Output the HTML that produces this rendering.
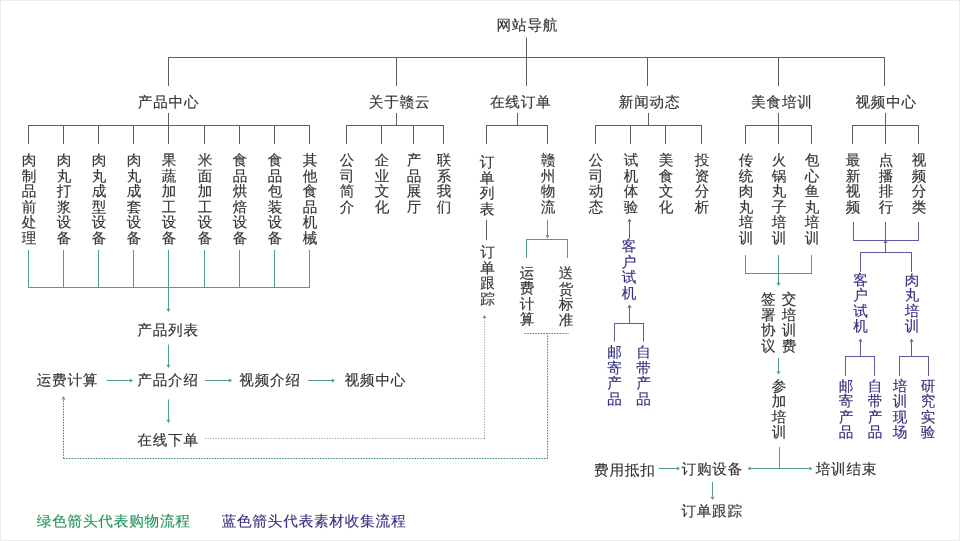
<!DOCTYPE html>
<html><head><meta charset="utf-8"><style>
html,body{margin:0;padding:0;background:#fff;}
#c{position:relative;filter:blur(0.35px);width:960px;height:541px;overflow:hidden;background:#fff;font-family:"Liberation Sans",sans-serif;text-rendering:geometricPrecision;}
#c:after{content:"";position:absolute;left:0;top:0;right:0;bottom:0;border:1px solid #ececec;pointer-events:none;}
.h{position:absolute;-webkit-text-stroke:0.15px currentColor;white-space:nowrap;font-size:14.6px;line-height:14.6px;letter-spacing:0.8px;}
.v{position:absolute;-webkit-text-stroke:0.15px currentColor;width:15.4px;font-size:14.6px;line-height:15.5px;word-break:break-all;text-align:center;}
svg{position:absolute;left:0;top:0;}
</style></head><body><div id="c">
<svg width="960" height="541" viewBox="0 0 960 541">
<line x1="526.5" y1="38" x2="526.5" y2="57.5" stroke="#5e5e5e" stroke-width="1" stroke-linecap="square"/>
<line x1="168.5" y1="57.5" x2="884.5" y2="57.5" stroke="#5e5e5e" stroke-width="1" stroke-linecap="square"/>
<line x1="168.5" y1="57.5" x2="168.5" y2="85.5" stroke="#5e5e5e" stroke-width="1" stroke-linecap="square"/>
<line x1="168.5" y1="113.5" x2="168.5" y2="125.5" stroke="#5e5e5e" stroke-width="1" stroke-linecap="square"/>
<line x1="396.5" y1="57.5" x2="396.5" y2="85.5" stroke="#5e5e5e" stroke-width="1" stroke-linecap="square"/>
<line x1="396.5" y1="113.5" x2="396.5" y2="125.5" stroke="#5e5e5e" stroke-width="1" stroke-linecap="square"/>
<line x1="526.5" y1="57.5" x2="526.5" y2="85.5" stroke="#5e5e5e" stroke-width="1" stroke-linecap="square"/>
<line x1="517.5" y1="113.5" x2="517.5" y2="125.5" stroke="#5e5e5e" stroke-width="1" stroke-linecap="square"/>
<line x1="647.5" y1="57.5" x2="647.5" y2="85.5" stroke="#5e5e5e" stroke-width="1" stroke-linecap="square"/>
<line x1="648.5" y1="113.5" x2="648.5" y2="125.5" stroke="#5e5e5e" stroke-width="1" stroke-linecap="square"/>
<line x1="778.5" y1="57.5" x2="778.5" y2="85.5" stroke="#5e5e5e" stroke-width="1" stroke-linecap="square"/>
<line x1="778.5" y1="113.5" x2="778.5" y2="125.5" stroke="#5e5e5e" stroke-width="1" stroke-linecap="square"/>
<line x1="884.5" y1="57.5" x2="884.5" y2="85.5" stroke="#5e5e5e" stroke-width="1" stroke-linecap="square"/>
<line x1="885.5" y1="113.5" x2="885.5" y2="125.5" stroke="#5e5e5e" stroke-width="1" stroke-linecap="square"/>
<line x1="28.5" y1="125.5" x2="309.5" y2="125.5" stroke="#5e5e5e" stroke-width="1" stroke-linecap="square"/>
<line x1="28.5" y1="125.5" x2="28.5" y2="143.5" stroke="#5e5e5e" stroke-width="1" stroke-linecap="square"/>
<line x1="63.5" y1="125.5" x2="63.5" y2="143.5" stroke="#5e5e5e" stroke-width="1" stroke-linecap="square"/>
<line x1="98.5" y1="125.5" x2="98.5" y2="143.5" stroke="#5e5e5e" stroke-width="1" stroke-linecap="square"/>
<line x1="133.5" y1="125.5" x2="133.5" y2="143.5" stroke="#5e5e5e" stroke-width="1" stroke-linecap="square"/>
<line x1="168.5" y1="125.5" x2="168.5" y2="143.5" stroke="#5e5e5e" stroke-width="1" stroke-linecap="square"/>
<line x1="204.5" y1="125.5" x2="204.5" y2="143.5" stroke="#5e5e5e" stroke-width="1" stroke-linecap="square"/>
<line x1="239.5" y1="125.5" x2="239.5" y2="143.5" stroke="#5e5e5e" stroke-width="1" stroke-linecap="square"/>
<line x1="274.5" y1="125.5" x2="274.5" y2="143.5" stroke="#5e5e5e" stroke-width="1" stroke-linecap="square"/>
<line x1="309.5" y1="125.5" x2="309.5" y2="143.5" stroke="#5e5e5e" stroke-width="1" stroke-linecap="square"/>
<line x1="346.5" y1="125.5" x2="443.5" y2="125.5" stroke="#5e5e5e" stroke-width="1" stroke-linecap="square"/>
<line x1="346.5" y1="125.5" x2="346.5" y2="143.5" stroke="#5e5e5e" stroke-width="1" stroke-linecap="square"/>
<line x1="381.5" y1="125.5" x2="381.5" y2="143.5" stroke="#5e5e5e" stroke-width="1" stroke-linecap="square"/>
<line x1="413.5" y1="125.5" x2="413.5" y2="143.5" stroke="#5e5e5e" stroke-width="1" stroke-linecap="square"/>
<line x1="443.5" y1="125.5" x2="443.5" y2="143.5" stroke="#5e5e5e" stroke-width="1" stroke-linecap="square"/>
<line x1="486.5" y1="125.5" x2="547.5" y2="125.5" stroke="#5e5e5e" stroke-width="1" stroke-linecap="square"/>
<line x1="486.5" y1="125.5" x2="486.5" y2="143.5" stroke="#5e5e5e" stroke-width="1" stroke-linecap="square"/>
<line x1="547.5" y1="125.5" x2="547.5" y2="143.5" stroke="#5e5e5e" stroke-width="1" stroke-linecap="square"/>
<line x1="595.5" y1="125.5" x2="701.5" y2="125.5" stroke="#5e5e5e" stroke-width="1" stroke-linecap="square"/>
<line x1="595.5" y1="125.5" x2="595.5" y2="143.5" stroke="#5e5e5e" stroke-width="1" stroke-linecap="square"/>
<line x1="630.5" y1="125.5" x2="630.5" y2="143.5" stroke="#5e5e5e" stroke-width="1" stroke-linecap="square"/>
<line x1="665.5" y1="125.5" x2="665.5" y2="143.5" stroke="#5e5e5e" stroke-width="1" stroke-linecap="square"/>
<line x1="701.5" y1="125.5" x2="701.5" y2="143.5" stroke="#5e5e5e" stroke-width="1" stroke-linecap="square"/>
<line x1="745.5" y1="125.5" x2="811.5" y2="125.5" stroke="#5e5e5e" stroke-width="1" stroke-linecap="square"/>
<line x1="745.5" y1="125.5" x2="745.5" y2="143.5" stroke="#5e5e5e" stroke-width="1" stroke-linecap="square"/>
<line x1="778.5" y1="125.5" x2="778.5" y2="143.5" stroke="#5e5e5e" stroke-width="1" stroke-linecap="square"/>
<line x1="811.5" y1="125.5" x2="811.5" y2="143.5" stroke="#5e5e5e" stroke-width="1" stroke-linecap="square"/>
<line x1="852.5" y1="125.5" x2="918.5" y2="125.5" stroke="#5e5e5e" stroke-width="1" stroke-linecap="square"/>
<line x1="852.5" y1="125.5" x2="852.5" y2="143.5" stroke="#5e5e5e" stroke-width="1" stroke-linecap="square"/>
<line x1="885.5" y1="125.5" x2="885.5" y2="143.5" stroke="#5e5e5e" stroke-width="1" stroke-linecap="square"/>
<line x1="918.5" y1="125.5" x2="918.5" y2="143.5" stroke="#5e5e5e" stroke-width="1" stroke-linecap="square"/>
<line x1="28.5" y1="250.5" x2="28.5" y2="287.5" stroke="#50a07a" stroke-width="1" stroke-linecap="square"/>
<line x1="63.5" y1="250.5" x2="63.5" y2="287.5" stroke="#50a07a" stroke-width="1" stroke-linecap="square"/>
<line x1="98.5" y1="250.5" x2="98.5" y2="287.5" stroke="#50a07a" stroke-width="1" stroke-linecap="square"/>
<line x1="133.5" y1="250.5" x2="133.5" y2="287.5" stroke="#50a07a" stroke-width="1" stroke-linecap="square"/>
<line x1="168.5" y1="250.5" x2="168.5" y2="287.5" stroke="#50a07a" stroke-width="1" stroke-linecap="square"/>
<line x1="204.5" y1="250.5" x2="204.5" y2="287.5" stroke="#50a07a" stroke-width="1" stroke-linecap="square"/>
<line x1="239.5" y1="250.5" x2="239.5" y2="287.5" stroke="#50a07a" stroke-width="1" stroke-linecap="square"/>
<line x1="274.5" y1="250.5" x2="274.5" y2="287.5" stroke="#50a07a" stroke-width="1" stroke-linecap="square"/>
<line x1="309.5" y1="250.5" x2="309.5" y2="287.5" stroke="#50a07a" stroke-width="1" stroke-linecap="square"/>
<line x1="28.5" y1="287.5" x2="309.5" y2="287.5" stroke="#50a07a" stroke-width="1" stroke-linecap="square"/>
<line x1="168.5" y1="287.5" x2="168.5" y2="311" stroke="#50a07a" stroke-width="1" stroke-linecap="square"/>
<polygon points="168.5,312 166.5,308.8 170.5,308.8" fill="#50a07a"/>
<line x1="168.5" y1="345" x2="168.5" y2="367" stroke="#50a07a" stroke-width="1" stroke-linecap="square"/>
<polygon points="168.5,368 166.5,364.8 170.5,364.8" fill="#50a07a"/>
<line x1="107" y1="380.5" x2="132" y2="380.5" stroke="#50a07a" stroke-width="1" stroke-linecap="square"/>
<polygon points="133,380.5 129.8,378.5 129.8,382.5" fill="#50a07a"/>
<line x1="205.5" y1="380.5" x2="231" y2="380.5" stroke="#50a07a" stroke-width="1" stroke-linecap="square"/>
<polygon points="232,380.5 228.8,378.5 228.8,382.5" fill="#50a07a"/>
<line x1="308.5" y1="380.5" x2="334" y2="380.5" stroke="#50a07a" stroke-width="1" stroke-linecap="square"/>
<polygon points="335,380.5 331.8,378.5 331.8,382.5" fill="#50a07a"/>
<line x1="168.5" y1="400" x2="168.5" y2="422" stroke="#50a07a" stroke-width="1" stroke-linecap="square"/>
<polygon points="168.5,423 166.5,419.8 170.5,419.8" fill="#50a07a"/>
<line x1="205" y1="438.5" x2="484.5" y2="438.5" stroke="#8a9a90" stroke-width="1" stroke-dasharray="1 1.65"/>
<line x1="484.5" y1="438.5" x2="484.5" y2="318" stroke="#8a9a90" stroke-width="1" stroke-dasharray="1 1.65"/>
<polygon points="484.5,315 482.5,318 486.5,318" fill="#6f9a82"/>
<line x1="63.5" y1="458.5" x2="547.5" y2="458.5" stroke="#3f8e66" stroke-width="1" stroke-dasharray="1.5 1.2"/>
<line x1="63.5" y1="458.5" x2="63.5" y2="400" stroke="#3f8e66" stroke-width="1" stroke-dasharray="1.5 1.2"/>
<polygon points="63.5,396 61.5,399.5 65.5,399.5" fill="#50a07a"/>
<line x1="547.5" y1="458.5" x2="547.5" y2="333.5" stroke="#3f8e66" stroke-width="1" stroke-dasharray="1.5 1.2"/>
<line x1="524.5" y1="333.5" x2="568.5" y2="333.5" stroke="#3f8e66" stroke-width="1" stroke-dasharray="1.5 1.2"/>
<line x1="486.5" y1="220.5" x2="486.5" y2="239.5" stroke="#5e5e5e" stroke-width="1" stroke-linecap="square"/>
<line x1="547.5" y1="220.5" x2="547.5" y2="237" stroke="#50a07a" stroke-width="1" stroke-linecap="square"/>
<polygon points="547.5,238.5 545.5,235.3 549.5,235.3" fill="#50a07a"/>
<line x1="526.5" y1="239.5" x2="567.5" y2="239.5" stroke="#50a07a" stroke-width="1" stroke-linecap="square"/>
<line x1="526.5" y1="239.5" x2="526.5" y2="257.5" stroke="#50a07a" stroke-width="1" stroke-linecap="square"/>
<line x1="567.5" y1="239.5" x2="567.5" y2="257.5" stroke="#50a07a" stroke-width="1" stroke-linecap="square"/>
<line x1="629.5" y1="238.5" x2="629.5" y2="222" stroke="#5f5c9a" stroke-width="1" stroke-linecap="square"/>
<polygon points="629.5,218.5 627.5,221.7 631.5,221.7" fill="#5f5c9a"/>
<line x1="629.5" y1="323.5" x2="629.5" y2="308" stroke="#5f5c9a" stroke-width="1" stroke-linecap="square"/>
<polygon points="629.5,304.5 627.5,307.7 631.5,307.7" fill="#5f5c9a"/>
<line x1="614.5" y1="323.5" x2="643.5" y2="323.5" stroke="#5f5c9a" stroke-width="1" stroke-linecap="square"/>
<line x1="614.5" y1="323.5" x2="614.5" y2="341" stroke="#5f5c9a" stroke-width="1" stroke-linecap="square"/>
<line x1="643.5" y1="323.5" x2="643.5" y2="341" stroke="#5f5c9a" stroke-width="1" stroke-linecap="square"/>
<line x1="745.5" y1="255.5" x2="745.5" y2="273.5" stroke="#50a07a" stroke-width="1" stroke-linecap="square"/>
<line x1="778.5" y1="255.5" x2="778.5" y2="273.5" stroke="#50a07a" stroke-width="1" stroke-linecap="square"/>
<line x1="811.5" y1="255.5" x2="811.5" y2="273.5" stroke="#50a07a" stroke-width="1" stroke-linecap="square"/>
<line x1="745.5" y1="273.5" x2="811.5" y2="273.5" stroke="#50a07a" stroke-width="1" stroke-linecap="square"/>
<line x1="778.5" y1="273.5" x2="778.5" y2="285" stroke="#50a07a" stroke-width="1" stroke-linecap="square"/>
<polygon points="778.5,286 776.5,282.8 780.5,282.8" fill="#50a07a"/>
<line x1="778.5" y1="358.5" x2="778.5" y2="373" stroke="#50a07a" stroke-width="1" stroke-linecap="square"/>
<polygon points="778.5,374.5 776.5,371.3 780.5,371.3" fill="#50a07a"/>
<line x1="779.5" y1="447.5" x2="779.5" y2="468.5" stroke="#50a07a" stroke-width="1" stroke-linecap="square"/>
<line x1="751" y1="468.5" x2="808.5" y2="468.5" stroke="#50a07a" stroke-width="1" stroke-linecap="square"/>
<polygon points="747.5,468.5 750.7,466.5 750.7,470.5" fill="#50a07a"/>
<polygon points="812.5,468.5 809.3,466.5 809.3,470.5" fill="#50a07a"/>
<line x1="659" y1="468.5" x2="676" y2="468.5" stroke="#50a07a" stroke-width="1" stroke-linecap="square"/>
<polygon points="680,468.5 676.8,466.5 676.8,470.5" fill="#50a07a"/>
<line x1="712.5" y1="482.5" x2="712.5" y2="496" stroke="#50a07a" stroke-width="1" stroke-linecap="square"/>
<polygon points="712.5,500 710.5,496.8 714.5,496.8" fill="#50a07a"/>
<line x1="853.5" y1="222.5" x2="853.5" y2="240.5" stroke="#5f5c9a" stroke-width="1" stroke-linecap="square"/>
<line x1="885.5" y1="222.5" x2="885.5" y2="240.5" stroke="#5f5c9a" stroke-width="1" stroke-linecap="square"/>
<line x1="918.5" y1="222.5" x2="918.5" y2="240.5" stroke="#5f5c9a" stroke-width="1" stroke-linecap="square"/>
<line x1="853.5" y1="240.5" x2="918.5" y2="240.5" stroke="#5f5c9a" stroke-width="1" stroke-linecap="square"/>
<line x1="885.5" y1="252.5" x2="885.5" y2="242" stroke="#5f5c9a" stroke-width="1" stroke-linecap="square"/>
<polygon points="885.5,239.8 883.5,243.0 887.5,243.0" fill="#5f5c9a"/>
<line x1="860.5" y1="252.5" x2="911.5" y2="252.5" stroke="#5f5c9a" stroke-width="1" stroke-linecap="square"/>
<line x1="860.5" y1="252.5" x2="860.5" y2="271.5" stroke="#5f5c9a" stroke-width="1" stroke-linecap="square"/>
<line x1="911.5" y1="252.5" x2="911.5" y2="271.5" stroke="#5f5c9a" stroke-width="1" stroke-linecap="square"/>
<line x1="860.5" y1="356.5" x2="860.5" y2="342" stroke="#5f5c9a" stroke-width="1" stroke-linecap="square"/>
<polygon points="860.5,338.5 858.5,341.7 862.5,341.7" fill="#5f5c9a"/>
<line x1="911.5" y1="356.5" x2="911.5" y2="342" stroke="#5f5c9a" stroke-width="1" stroke-linecap="square"/>
<polygon points="911.5,338.5 909.5,341.7 913.5,341.7" fill="#5f5c9a"/>
<line x1="845.5" y1="356.5" x2="874.5" y2="356.5" stroke="#5f5c9a" stroke-width="1" stroke-linecap="square"/>
<line x1="899.5" y1="356.5" x2="928.5" y2="356.5" stroke="#5f5c9a" stroke-width="1" stroke-linecap="square"/>
<line x1="845.5" y1="356.5" x2="845.5" y2="375.5" stroke="#5f5c9a" stroke-width="1" stroke-linecap="square"/>
<line x1="874.5" y1="356.5" x2="874.5" y2="375.5" stroke="#5f5c9a" stroke-width="1" stroke-linecap="square"/>
<line x1="899.5" y1="356.5" x2="899.5" y2="375.5" stroke="#5f5c9a" stroke-width="1" stroke-linecap="square"/>
<line x1="928.5" y1="356.5" x2="928.5" y2="375.5" stroke="#5f5c9a" stroke-width="1" stroke-linecap="square"/>
</svg>
<div class="h" style="left:496.6px;top:19.0px;color:#333333">网站导航</div>
<div class="h" style="left:137.8px;top:95.5px;color:#333333">产品中心</div>
<div class="h" style="left:368.8px;top:95.5px;color:#333333">关于赣云</div>
<div class="h" style="left:489.9px;top:95.5px;color:#333333">在线订单</div>
<div class="h" style="left:618.8px;top:95.5px;color:#333333">新闻动态</div>
<div class="h" style="left:751.1px;top:95.5px;color:#333333">美食培训</div>
<div class="h" style="left:855.4px;top:95.5px;color:#333333">视频中心</div>
<div class="v" style="left:21.3px;top:154.0px;color:#333333">肉制品前处理</div>
<div class="v" style="left:56.3px;top:154.0px;color:#333333">肉丸打浆设备</div>
<div class="v" style="left:91.3px;top:154.0px;color:#333333">肉丸成型设备</div>
<div class="v" style="left:126.3px;top:154.0px;color:#333333">肉丸成套设备</div>
<div class="v" style="left:161.3px;top:154.0px;color:#333333">果蔬加工设备</div>
<div class="v" style="left:197.3px;top:154.0px;color:#333333">米面加工设备</div>
<div class="v" style="left:232.3px;top:154.0px;color:#333333">食品烘焙设备</div>
<div class="v" style="left:267.3px;top:154.0px;color:#333333">食品包装设备</div>
<div class="v" style="left:302.3px;top:154.0px;color:#333333">其他食品机械</div>
<div class="v" style="left:339.3px;top:154.0px;color:#333333">公司简介</div>
<div class="v" style="left:374.3px;top:154.0px;color:#333333">企业文化</div>
<div class="v" style="left:406.3px;top:154.0px;color:#333333">产品展厅</div>
<div class="v" style="left:436.3px;top:154.0px;color:#333333">联系我们</div>
<div class="v" style="left:479.3px;top:156.0px;color:#333333">订单列表</div>
<div class="v" style="left:540.3px;top:154.0px;color:#333333">赣州物流</div>
<div class="v" style="left:588.3px;top:154.0px;color:#333333">公司动态</div>
<div class="v" style="left:623.3px;top:154.0px;color:#333333">试机体验</div>
<div class="v" style="left:658.3px;top:154.0px;color:#333333">美食文化</div>
<div class="v" style="left:694.3px;top:154.0px;color:#333333">投资分析</div>
<div class="v" style="left:738.3px;top:154.0px;color:#333333">传统肉丸培训</div>
<div class="v" style="left:771.3px;top:154.0px;color:#333333">火锅丸子培训</div>
<div class="v" style="left:804.3px;top:154.0px;color:#333333">包心鱼丸培训</div>
<div class="v" style="left:845.3px;top:154.0px;color:#333333">最新视频</div>
<div class="v" style="left:878.3px;top:154.0px;color:#333333">点播排行</div>
<div class="v" style="left:911.3px;top:154.0px;color:#333333">视频分类</div>
<div class="h" style="left:137.3px;top:323.5px;color:#333333">产品列表</div>
<div class="h" style="left:137.3px;top:373.9px;color:#333333">产品介绍</div>
<div class="h" style="left:36.7px;top:373.7px;color:#333333">运费计算</div>
<div class="h" style="left:239.3px;top:373.9px;color:#333333">视频介绍</div>
<div class="h" style="left:344.7px;top:373.9px;color:#333333">视频中心</div>
<div class="h" style="left:137.3px;top:433.5px;color:#333333">在线下单</div>
<div class="v" style="left:479.8px;top:246.0px;color:#333333">订单跟踪</div>
<div class="v" style="left:519.3px;top:266.6px;color:#333333">运费计算</div>
<div class="v" style="left:558.3px;top:267.0px;color:#333333">送货标准</div>
<div class="v" style="left:621.3px;top:240.0px;color:#36317f">客户试机</div>
<div class="v" style="left:606.8px;top:346.4px;color:#36317f">邮寄产品</div>
<div class="v" style="left:635.8px;top:346.4px;color:#36317f">自带产品</div>
<div class="v" style="left:760.5px;top:293.4px;color:#333333">签署协议</div>
<div class="v" style="left:781.3px;top:293.4px;color:#333333">交培训费</div>
<div class="v" style="left:771.3px;top:379.8px;color:#333333">参加培训</div>
<div class="h" style="left:815.7px;top:463.3px;color:#333333">培训结束</div>
<div class="h" style="left:681.5px;top:463.3px;color:#333333">订购设备</div>
<div class="h" style="left:594.0px;top:463.8px;color:#333333">费用抵扣</div>
<div class="h" style="left:681.3px;top:505.4px;color:#333333">订单跟踪</div>
<div class="v" style="left:852.8px;top:273.5px;color:#36317f">客户试机</div>
<div class="v" style="left:904.3px;top:273.5px;color:#36317f">肉丸培训</div>
<div class="v" style="left:838.3px;top:379.5px;color:#36317f">邮寄产品</div>
<div class="v" style="left:867.3px;top:379.5px;color:#36317f">自带产品</div>
<div class="v" style="left:892.3px;top:379.5px;color:#36317f">培训现场</div>
<div class="v" style="left:920.3px;top:379.5px;color:#36317f">研究实验</div>
<div class="h" style="left:36.8px;top:514.5px;color:#23955a">绿色箭头代表购物流程</div>
<div class="h" style="left:221.7px;top:514.5px;color:#36317f">蓝色箭头代表素材收集流程</div>
</div></body></html>
